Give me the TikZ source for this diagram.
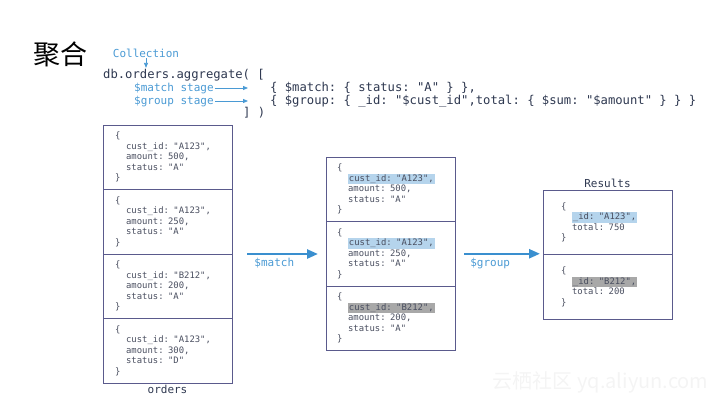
\documentclass[tikz,border=0pt]{standalone}
\usepackage{fontspec}
\setmainfont{Liberation Sans}
\setmonofont{DejaVu Sans Mono}
\newfontfamily\cjk{Noto Sans CJK SC}
\usepackage{xcolor}
\usepackage{tikz}
\usetikzlibrary{positioning, arrows.meta}

\definecolor{labelblue}{HTML}{4A9AD4}
\definecolor{flowblue}{HTML}{3A8FCF}
\definecolor{boxline}{HTML}{5A5A8C}
\definecolor{codetext}{HTML}{2E3850}
\definecolor{doctext}{HTML}{4A4F60}
\definecolor{hlblue}{HTML}{B5D4EC}
\definecolor{hlgray}{HTML}{A8A8A8}

\newcommand{\ind}{\hspace*{1.25em}}
\newcommand{\hlb}[1]{{\setlength\fboxsep{0.8pt}\colorbox{hlblue}{#1}}}
\newcommand{\hlg}[1]{{\setlength\fboxsep{0.8pt}\colorbox{hlgray}{#1}}}

\begin{document}
\begin{tikzpicture}[
  x=1pt, y=-1pt,
  codeline/.style={font=\ttfamily\fontsize{12.2}{13}\selectfont, text=codetext,
                   inner sep=1pt, anchor=west},
  bluelabel/.style={font=\ttfamily\fontsize{11}{12}\selectfont, text=labelblue,
                    inner sep=1pt},
  docsec/.style={draw=boxline, line width=0.8pt, minimum width=129pt,
                 minimum height=64.5pt, text width=105pt, inner xsep=12pt,
                 inner ysep=2pt, outer sep=0pt, align=left, text=doctext,
                 font=\ttfamily\fontsize{8.9}{10.5}\selectfont},
  boxname/.style={font=\ttfamily\fontsize{11}{12}\selectfont, text=codetext,
                  inner sep=1pt},
  stagearrow/.style={draw=labelblue, line width=0.8pt,
                     -{Triangle[length=5pt,width=4pt]}},
  flow/.style={draw=flowblue, line width=2.4pt,
               -{Triangle[length=11pt,width=9pt]}},
]
\useasboundingbox (0,0) rectangle (720,405);

% title and the query
\node[font=\cjk\fontsize{27}{30}\selectfont] (title) at (60,54) {聚合};
\node[bluelabel] (coll) at (146,53) {Collection};
\node[codeline] (agg) at (102,75) {db.orders.aggregate( [};
\node[bluelabel, anchor=west] (mstage) at (133,88) {\$match stage};
\node[bluelabel, anchor=west] (gstage) at (133,101) {\$group stage};
\node[codeline] (mcode) at (269,88) {\{ \$match: \{ status: "A" \} \},};
\node[codeline] (gcode) at (269,101) {\{ \$group: \{ \_id: "\$cust\_id",total: \{ \$sum: "\$amount" \} \} \}};
\node[codeline] (close) at (242,113) {] )};

\draw[stagearrow] (coll.south) -- (coll.south |- agg.north);
\draw[stagearrow, shorten >=21pt] (mstage.east) -- (mcode.west);
\draw[stagearrow, shorten >=21pt] (gstage.east) -- (gcode.west);

% orders collection
\node[docsec, anchor=north west] (o1) at (103,125)
  {\{\\\ind cust\_id: "A123",\\\ind amount: 500,\\\ind status: "A"\\\}};
\node[docsec, below=0pt of o1] (o2)
  {\{\\\ind cust\_id: "A123",\\\ind amount: 250,\\\ind status: "A"\\\}};
\node[docsec, below=0pt of o2] (o3)
  {\{\\\ind cust\_id: "B212",\\\ind amount: 200,\\\ind status: "A"\\\}};
\node[docsec, below=0pt of o3] (o4)
  {\{\\\ind cust\_id: "A123",\\\ind amount: 300,\\\ind status: "D"\\\}};
\node[boxname, below=1pt of o4] (orders) {orders};

% after $match
\node[docsec, anchor=north west, inner xsep=11pt, text width=107pt] (m1) at (326,157)
  {\{\\\ind \hlb{cust\_id: "A123",}\\\ind amount: 500,\\\ind status: "A"\\\}};
\node[docsec, below=0pt of m1, inner xsep=11pt, text width=107pt] (m2)
  {\{\\\ind \hlb{cust\_id: "A123",}\\\ind amount: 250,\\\ind status: "A"\\\}};
\node[docsec, below=0pt of m2, inner xsep=11pt, text width=107pt] (m3)
  {\{\\\ind \hlg{cust\_id: "B212",}\\\ind amount: 200,\\\ind status: "A"\\\}};

% after $group
\node[docsec, anchor=north west, inner xsep=18pt, text width=93pt] (r1) at (543,190)
  {\{\\\ind \hlb{\_id: "A123",}\\\ind total: 750\\\}};
\node[docsec, below=0pt of r1, inner xsep=18pt, text width=93pt] (r2)
  {\{\\\ind \hlg{\_id: "B212",}\\\ind total: 200\\\}};
\node[boxname, above=1pt of r1] (results) {Results};

\draw[flow, shorten <=15pt, shorten >=8pt] (o2.south east) -- node[below=2pt, bluelabel, pos=0.45] {\$match} (o2.south east -| m2.west);
\draw[flow, shorten <=9pt, shorten >=3pt] (m2.east) -- node[below=2pt, bluelabel, pos=0.4] {\$group} (m2.east -| r1.west);

\node[font=\cjk\fontsize{20}{22}\selectfont, text=gray!9, anchor=east] (wmark) at (712,382) {云栖社区 yq.aliyun.com};
\end{tikzpicture}
\end{document}
